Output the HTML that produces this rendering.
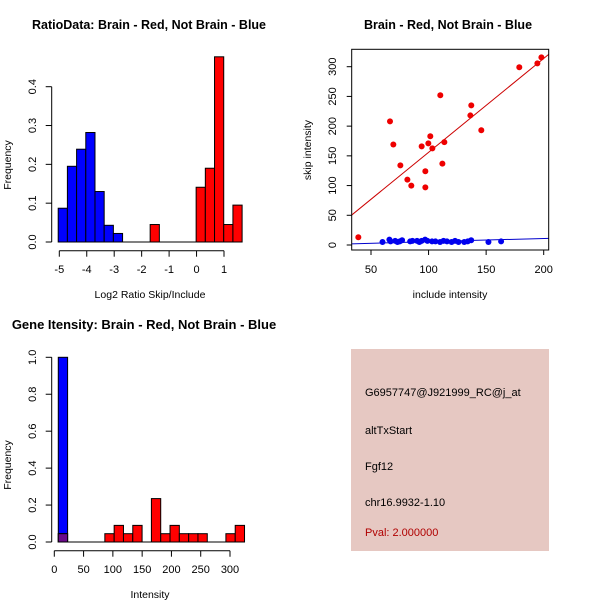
<!DOCTYPE html>
<html><head><meta charset="utf-8"><style>
body{margin:0;background:#fff}
svg{display:block;font-family:"Liberation Sans",sans-serif}
</style></head><body>
<svg id="c" width="600" height="600" viewBox="0 0 600 600" xmlns="http://www.w3.org/2000/svg">
<rect width="600" height="600" fill="#fff"/>
<text x="149" y="29" text-anchor="middle" font-size="12.5" font-weight="bold">RatioData: Brain - Red, Not Brain - Blue</text>
<text x="448" y="29" text-anchor="middle" font-size="12.5" font-weight="bold">Brain - Red, Not Brain - Blue</text>
<text x="144" y="329" text-anchor="middle" font-size="13" font-weight="bold">Gene Itensity: Brain - Red, Not Brain - Blue</text>
<g>
<rect x="351" y="349" width="198" height="202" fill="#e6c8c2"/>
<text x="365" y="396" font-size="11">G6957747@J921999_RC@j_at</text>
<text x="365" y="434" font-size="11">altTxStart</text>
<text x="365" y="470" font-size="11">Fgf12</text>
<text x="365" y="506" font-size="11">chr16.9932-1.10</text>
<text x="365" y="536" font-size="11" fill="#b00000">Pval: 2.000000</text>
</g>
</svg>
<script>
// ---- Panel 1 data ----
const ratioBinStart = -5.04;
const ratioBinWidth = 0.335;
const ratioBlueBins = [0,1,2,3,4,5,6];
const ratioBlueFreq = [0.087,0.195,0.239,0.282,0.130,0.043,0.022];
const ratioRedBins = [10,15,16,17,18,19];
const ratioRedFreq = [0.045,0.141,0.190,0.477,0.045,0.095];
const ratioXTicks = [-5,-4,-3,-2,-1,0,1];
const ratioYTicks = [0,0.1,0.2,0.3,0.4];
// ---- Panel 2 data ----
const redX = [39,66.5,69.4,75.5,81.6,85,94,97.2,97.2,99.8,101.5,103.3,110.2,112,113.7,136.3,137.1,145.8,178.8,194.5,198];
const redY = [13,208,169,134,110,100,166,124,97,171,183,162.5,252,137,173,218,235,193,299,305.5,315.6];
const blueX = [60,66,67,71,73,75,77,84,86,90,92,94,97,99,103,106,110,113,116,120,123,126,131,134,137,152,163];
const blueY = [5,9,6,7,5,6,8,6,7,7,5,7,9,7,6,6,5,7,6,5,7,5,5,6,8,5,6];
const redFit = [-2.1,1.58];
const blueFit = [0.2,0.054];
const scXTicks = [50,100,150,200];
const scYTicks = [0,50,100,150,200,250,300];
// ---- Panel 3 data ----
const intBinStart = 6.8;
const intBinWidth = 15.9;
const intBlueBins = [0];
const intBlueFreq = [1.0];
const intRedBins = [0,5,6,7,8,10,11,12,13,14,15,18,19];
const intRedFreq = [0.045,0.045,0.09,0.045,0.09,0.235,0.045,0.09,0.045,0.045,0.045,0.045,0.09];
const intXTicks = [0,50,100,150,200,250,300];
const intYTicks = [0,0.2,0.4,0.6,0.8,1.0];

const svg = document.getElementById('c');
const NS = 'http://www.w3.org/2000/svg';
function mk(tag, attrs, parent){const e=document.createElementNS(NS,tag);for(const k in attrs)e.setAttribute(k,attrs[k]);(parent||svg).appendChild(e);return e;}
function lin(d0,d1,r0,r1){return v=>r0+(v-d0)*(r1-r0)/(d1-d0);}

function axes(g,xs,ys,xt,yt,xlab,ylab,xAxisY,yAxisX,xLabY,yLabX,xtitleY,ytitleX,fmt,cx,cy){
  mk('line',{x1:xs(xt[0]),x2:xs(xt[xt.length-1]),y1:xAxisY,y2:xAxisY,stroke:'#000'},g);
  xt.forEach(t=>{mk('line',{x1:xs(t),x2:xs(t),y1:xAxisY,y2:xAxisY+6,stroke:'#000'},g);
    const e=mk('text',{x:xs(t),y:xLabY,'text-anchor':'middle','font-size':11},g);e.textContent=t;
    
    });
  mk('line',{x1:yAxisX,x2:yAxisX,y1:ys(yt[0]),y2:ys(yt[yt.length-1]),stroke:'#000'},g);
  yt.forEach(t=>{mk('line',{x1:yAxisX,x2:yAxisX-6,y1:ys(t),y2:ys(t),stroke:'#000'},g);
    const e=mk('text',{x:yLabX,y:ys(t),'text-anchor':'middle','font-size':11,transform:`rotate(-90 ${yLabX} ${ys(t)})`},g);e.textContent=fmt(t);
    
    });
  const a=mk('text',{x:cx,y:xtitleY,'text-anchor':'middle','font-size':10.5},g);a.textContent=xlab;
  
  
  const b=mk('text',{x:ytitleX,y:cy,'text-anchor':'middle','font-size':10.5,transform:`rotate(-90 ${ytitleX} ${cy})`},g);b.textContent=ylab;
  
  
}

// Panel 1
(function(){
  const g=mk('g',{});
  
  
  const xs=lin(-5,1,59.3,224), ys=lin(0,0.4,242,86.7);
  function bars(bins,freq,col,name){bins.forEach((k,i)=>{const l=ratioBinStart+k*ratioBinWidth;
    const r=mk('rect',{x:xs(l),y:ys(freq[i]),width:xs(l+ratioBinWidth)-xs(l),height:ys(0)-ys(freq[i]),fill:col,stroke:'#000','stroke-width':1},g);
    
    });}
  bars(ratioBlueBins,ratioBlueFreq,'#0000ff','ratio-bar-blue');
  bars(ratioRedBins,ratioRedFreq,'#ff0000','ratio-bar-red');
  mk('line',{x1:xs(ratioBinStart),x2:xs(ratioBinStart+20*ratioBinWidth),y1:ys(0),y2:ys(0),stroke:'#000'},g);
  axes(g,xs,ys,ratioXTicks,ratioYTicks,'Log2 Ratio Skip/Include','Frequency',250.7,51.7,273,36,298,11,t=>t.toFixed(1),150,165);
})();

// Panel 2
(function(){
  const g=mk('g',{});
  
  
  const xs=lin(50,200,371,543.7), ys=lin(0,300,245,66.7);
  const L=351.7,R=548.7,T=49.3,B=250;
  mk('defs',{},g).innerHTML='<clipPath id="cp"><rect x="351.7" y="49.3" width="197" height="200.7"/></clipPath>';
  [[redFit,'#cc0000','red-fit-line'],[blueFit,'#0000cc','blue-fit-line']].forEach(([f,c,n])=>{
    const x0=20,x1=220;
    const l=mk('line',{x1:xs(x0),y1:ys(f[0]+f[1]*x0),x2:xs(x1),y2:ys(f[0]+f[1]*x1),stroke:c,'stroke-width':1,'clip-path':'url(#cp)'},g);
    
    });
  redX.forEach((x,i)=>{const p=mk('circle',{cx:xs(x),cy:ys(redY[i]),r:3,fill:'#ee0000'},g);
    
    });
  blueX.forEach((x,i)=>{const p=mk('circle',{cx:xs(x),cy:ys(blueY[i]),r:3,fill:'#0000ee'},g);
    
    });
  mk('rect',{x:L,y:T,width:R-L,height:B-T,fill:'none',stroke:'#000'},g);
  scXTicks.forEach(t=>{mk('line',{x1:xs(t),x2:xs(t),y1:B,y2:B+5,stroke:'#000'},g);
    const e=mk('text',{x:xs(t),y:273,'text-anchor':'middle','font-size':11},g);e.textContent=t;
    
    });
  scYTicks.forEach(t=>{mk('line',{x1:L,x2:L-5,y1:ys(t),y2:ys(t),stroke:'#000'},g);
    const e=mk('text',{x:336,y:ys(t),'text-anchor':'middle','font-size':11,transform:`rotate(-90 336 ${ys(t)})`},g);e.textContent=t;
    
    });
  const a=mk('text',{x:450,y:298,'text-anchor':'middle','font-size':10.5},g);a.textContent='include intensity';
  
  
  const b=mk('text',{x:311,y:150,'text-anchor':'middle','font-size':10.5,transform:'rotate(-90 311 150)'},g);b.textContent='skip intensity';
  
  
})();

// Panel 3
(function(){
  const g=mk('g',{});
  
  
  const xs=lin(0,300,54.3,230), ys=lin(0,1,542,357.3);
  function bars(bins,freq,col,name){bins.forEach((k,i)=>{const l=intBinStart+k*intBinWidth;
    const r=mk('rect',{x:xs(l),y:ys(freq[i]),width:xs(l+intBinWidth)-xs(l),height:ys(0)-ys(freq[i]),fill:col,stroke:'#000','stroke-width':1},g);
    
    });}
  bars(intBlueBins,intBlueFreq,'#0000ff','intensity-bar-blue');
  bars(intRedBins,intRedFreq,'#ff0000','intensity-bar-red');
  const l0=intBinStart, f0=Math.min(intRedFreq[0],intBlueFreq[0]);
  const ov=mk('rect',{x:xs(l0),y:ys(f0),width:xs(l0+intBinWidth)-xs(l0),height:ys(0)-ys(f0),fill:'#6a0a8a',stroke:'#000'},g);
  
  
  mk('line',{x1:xs(intBinStart),x2:xs(intBinStart+20*intBinWidth),y1:ys(0),y2:ys(0),stroke:'#000'},g);
  axes(g,xs,ys,intXTicks,intYTicks,'Intensity','Frequency',550.7,51.7,573,36,598,11,t=>t.toFixed(1),150,465);
})();
</script>
</body></html>
